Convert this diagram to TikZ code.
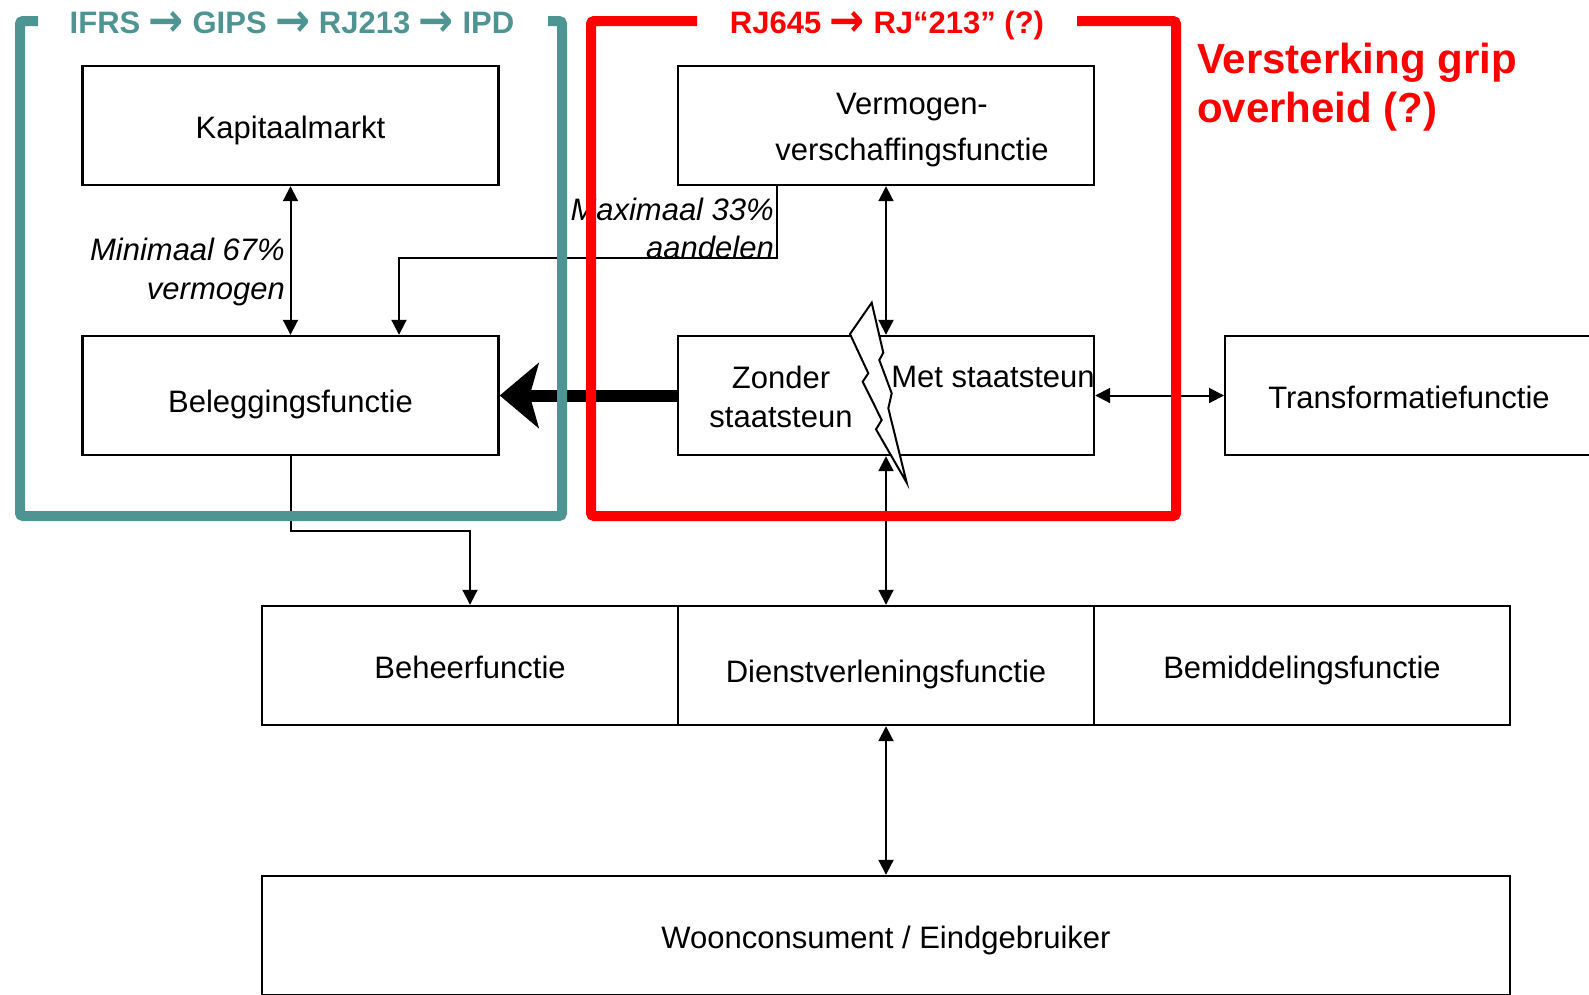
\documentclass[tikz,border=0pt]{standalone}
\usepackage{fontspec}
\setmainfont{Liberation Sans}
\newfontfamily\arrowfont{DejaVu Sans}
\usetikzlibrary{arrows.meta}
\definecolor{ifrsteal}{RGB}{77,148,146}
\definecolor{rjred}{RGB}{255,0,0}
\newcommand{\boxfont}{\fontsize{31}{39}\selectfont}
\newcommand{\headfont}{\fontsize{31}{36}\selectfont\bfseries}
\newcommand{\gripfont}{\fontsize{42}{49}\selectfont\bfseries}
\newcommand{\headarrow}{\raisebox{-0.1em}{\scalebox{1.35}[1.5]{\arrowfont\bfseries →}}}
\begin{document}
\begin{tikzpicture}[x=1pt, y=-1pt, >={Triangle[length=15pt,width=15pt]},
  box/.style={draw, line width=2.4pt, minimum width=416pt, minimum height=119pt,
    inner sep=0pt, font=\boxfont, text height=25pt, text depth=0pt},
  txt/.style={inner sep=0pt, font=\boxfont, align=center},
  note/.style={inner sep=0pt, align=right},
  conn/.style={line width=2pt},
  frame/.style={line width=10pt, rounded corners=3pt}]
\useasboundingbox (0,0) rectangle (1589,994);

% boxes
\node[box] (Kap) at (290.5,125.5) {Kapitaalmarkt};
\node[box, text height=33pt] (Bel) at (290.5,395.5) {Beleggingsfunctie};
\node[box] (Verm) at (886,125.5) {};
\node[box] (Staat) at (886,395.5) {};
\node[box, anchor=west] (Trans) at (1224,395.5) {};
\node[box] (Beh) at (470,665.5) {Beheerfunctie};
\node[box, text height=33pt] (Dien) at (886,665.5) {Dienstverleningsfunctie};
\node[box] (Bem) at (1302,665.5) {Bemiddelingsfunctie};
\node[box, minimum width=1248pt] (Woon) at (886,935.5) {Woonconsument / Eindgebruiker};

% bliksem
\draw[line width=2pt, fill=white] (871.7,302.7) -- (883.3,352.7) -- (879.3,360) -- (891.7,393.3)
  -- (888.3,408.3) -- (906.7,482.7) -- (876,429.3) -- (881.7,420) -- (862.7,381.7)
  -- (868.3,373.3) -- (850,334) -- cycle;

% connectors
\draw[conn, <->] (Kap) -- (Bel);
\draw[conn, ->] ([xshift=-109pt]Verm.south) -- ++(0,72) -| ([xshift=108.5pt]Bel.north);
\draw[conn, <->] (Verm) -- (Staat);
\draw[conn, <->] (Staat.east) -- (Trans.west);
\draw[conn, <->] (Staat) -- (Dien);
\draw[conn, <->] (Dien) -- (Woon);
\draw[conn, ->] (Bel.south) -- ++(0,75) -| (Beh.north);
\draw[line width=12pt, -{Stealth[length=39pt,width=65pt,inset=9pt]}] (Staat.west) -- (Bel.east);

% texts
\node[txt, anchor=base, font=\fontsize{31}{45.5}\selectfont] (VermTxt) at (912,160) {Vermogen-\\verschaffingsfunctie};
\node[txt, anchor=base] (Zonder) at (781,427) {Zonder\\staatsteun};
\node[txt, anchor=base] (Met) at (993,387) {Met staatsteun};
\node[txt, anchor=base] (TransTxt) at (1409,408) {Transformatiefunctie};
\node[note, anchor=base east, font=\boxfont\itshape] (Min) at (285,299) {Minimaal 67\%\\vermogen};
\node[note, anchor=base east, font=\fontsize{31}{37.5}\selectfont\itshape] (Max) at (774,258) {Maximaal 33\%\\aandelen};

% kaders
\draw[frame, ifrsteal] (38,21) -- (20,21) -- (20,516) -- (562,516) -- (562,21) -- (548,21);
\draw[frame, rjred] (697,21) -- (591,21) -- (591,516) -- (1176,516) -- (1176,21) -- (1077,21);
\node[anchor=base, inner sep=0pt, text=ifrsteal, font=\headfont] (IfrsHead) at (292,33) {IFRS \headarrow{} GIPS \headarrow{} RJ213 \headarrow{} IPD};
\node[anchor=base, inner sep=0pt, text=rjred, font=\headfont] (RjHead) at (887,33) {RJ645 \headarrow{} RJ“213” (?)};
\node[anchor=base west, inner sep=0pt, align=left, text=rjred, font=\gripfont] (Grip) at (1197,122) {Versterking grip\\overheid (?)};
\end{tikzpicture}
\end{document}
